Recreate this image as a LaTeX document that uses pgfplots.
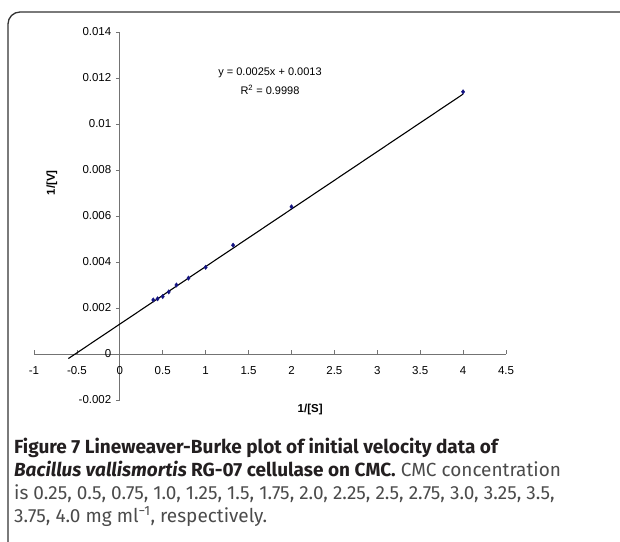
\documentclass[border=0pt]{standalone}
\usepackage{pgfplots}
\pgfplotsset{compat=1.18}
\usepackage{fontspec}
\setmainfont{Liberation Sans}
\newfontfamily\capfont{Fira Sans}
\definecolor{ptblue}{RGB}{20,20,130}
\definecolor{capbold}{RGB}{35,31,32}
\definecolor{capreg}{RGB}{75,75,75}

\begin{document}
\begin{tikzpicture}[x=1pt,y=1pt]
\useasboundingbox (0,0) rectangle (620,541);
% frame round the figure
\draw[line width=1.3pt, black!80, rounded corners=12pt] (8,-5) -- (8,529) -- (630,529);

\begin{axis}[
    at={(34pt,141pt)}, anchor=south west,
    scale only axis, width=472pt, height=368pt,
    xmin=-1, xmax=4.5, ymin=-0.002, ymax=0.014,
    axis lines=middle,
    axis line style={-, draw=black!55, line width=0.8pt},
    hide obscured x ticks=false, hide obscured y ticks=false,
    scaled y ticks=false, scaled x ticks=false,
    xtick={-1,-0.5,0,0.5,1,1.5,2,2.5,3,3.5,4,4.5},
    xticklabels={-1,-0.5,0,0.5,1,1.5,2,2.5,3,3.5,4,4.5},
    ytick={-0.002,0,0.002,0.004,0.006,0.008,0.01,0.012,0.014},
    yticklabels={-0.002,0,0.002,0.004,0.006,0.008,0.01,0.012,0.014},
    xtick align=inside, ytick align=outside,
    major tick length=4pt,
    tick style={draw=black!55, line width=0.8pt},
    ticklabel style={font=\fontsize{11.5}{13}\selectfont},
    xticklabel style={yshift=-9pt},
    yticklabel style={xshift=-1pt},
    xlabel={\textbf{1/[S]}},
    ylabel={\textbf{1/[V]}},
    xlabel style={at={(axis description cs:0.585,-0.027)}, anchor=center, font=\fontsize{11.5}{13}\selectfont},
    ylabel style={at={(axis description cs:0.038,0.59)}, anchor=center, rotate=90, font=\fontsize{11.5}{13}\selectfont},
    clip=false,
]
% trend line
\addplot[black, line width=1.1pt, mark=none] coordinates {(-0.6,-0.0002) (4,0.0113)};
% measured points
\addplot[only marks, mark=diamond*, mark size=2.2pt, color=ptblue] coordinates {
(0.39,0.00235) (0.44,0.0024) (0.5,0.0025) (0.57,0.0027) (0.66,0.0030)
(0.8,0.0033) (1.0,0.00377) (1.32,0.00473) (2.0,0.0064) (4.0,0.0114)};
\node[font=\fontsize{11}{13}\selectfont] at (axis cs:1.75,0.01222) {y = 0.0025x + 0.0013};
\node[font=\fontsize{11}{13}\selectfont] at (axis cs:1.75,0.01148) {R\textsuperscript{2} = 0.9998};
\end{axis}

% caption
\begin{scope}[every node/.style={anchor=base west, inner sep=0pt, font=\capfont\fontsize{19}{23}\selectfont}]
\node[text=capbold] at (14,88) {\textbf{Figure 7 Lineweaver-Burke plot of initial velocity data of}};
\node[text=capreg] at (14,65) {\textcolor{capbold}{\textbf{\textit{Bacillus vallismortis} RG-07 cellulase on CMC.}} CMC concentration};
\node[text=capreg] at (14,42) {is 0.25, 0.5, 0.75, 1.0, 1.25, 1.5, 1.75, 2.0, 2.25, 2.5, 2.75, 3.0, 3.25, 3.5,};
\node[text=capreg] at (14,19) {3.75, 4.0 mg ml\textsuperscript{−1}, respectively.};
\end{scope}
\end{tikzpicture}
\end{document}
